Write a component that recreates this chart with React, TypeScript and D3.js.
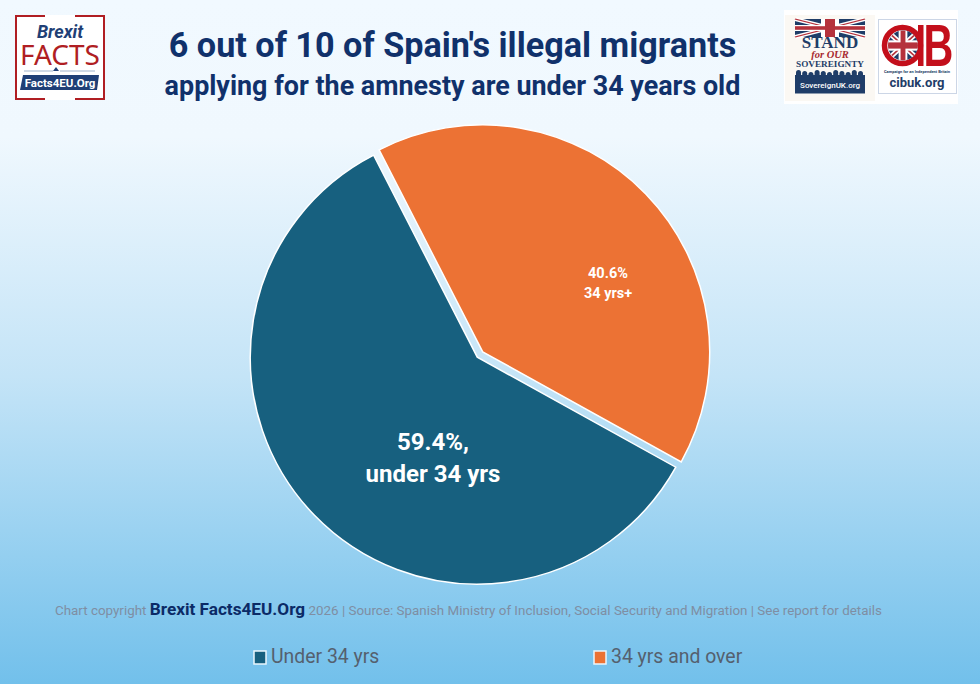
import React from "react";
import { arc, pie, scaleOrdinal } from "d3";

const categories = ["Under 34 yrs", "34 yrs and over"];
const shares = [59.4, 40.6];
const sliceColours = ["#17607f", "#ec7234"];
const sliceLabels = [
  ["59.4%,", "under 34 yrs"],
  ["40.6%", "34 yrs+"],
];
const titleLines = [
  "6 out of 10 of Spain's illegal migrants",
  "applying for the amnesty are under 34 years old",
];

const FONT = "Roboto, 'Noto Sans', sans-serif";
const SERIF = "'Liberation Serif', serif";
const NAVY = "#10316b";

const width = 980;
const height = 684;
const pieCentre = { x: 480, y: 354.5 };
const radius = 227;
const explode = 3.8;

const colour = scaleOrdinal<string, string>().domain(categories).range(sliceColours);

const deg = (d: number) => (d * Math.PI) / 180;

const UnionJack = ({ x, y, w, h }: { x: number; y: number; w: number; h: number }) => (
  <g transform={`translate(${x},${y}) scale(${w / 70},${h / 30})`}>
    <rect width="70" height="30" fill="#1f3d68" />
    <path d="M0,0L70,30M70,0L0,30" stroke="#fff" strokeWidth="6" />
    <path d="M0,0L70,30M70,0L0,30" stroke="#b5323c" strokeWidth="2" />
    <rect x="26" width="18" height="30" fill="#fff" />
    <rect y="10" width="70" height="10" fill="#fff" />
    <rect x="30" width="10" height="30" fill="#b5323c" />
    <rect y="12" width="70" height="6" fill="#b5323c" />
  </g>
);

const BrexitLogo = () => (
  <g fontFamily={FONT} textAnchor="middle">
    <rect x="15" y="15" width="90" height="85" fill="#fff" />
    <path d="M45,16H16V99H45M75,16H104V99H75" fill="none" stroke="#b01e23" strokeWidth="2" />
    <text x="60" y="38" fontSize="18" fontWeight="700" fontStyle="italic" fill="#1f3f76">Brexit</text>
    <text x="60" y="65" fontSize="28" fontFamily="'Noto Sans', sans-serif" fill="#b01e23">FACTS</text>
    <path d="M24,71H53M60,71H95" stroke="#9fb3cc" strokeWidth="1" />
    <path d="M53,71L56,67L59,71Z" fill="#1f3f76" />
    <path d="M23,75H99L97,90H20Z" fill="#1f3f76" />
    <text x="60" y="87" fontSize="11.5" fontWeight="700" fill="#fff">Facts4EU.Org</text>
  </g>
);

const crowd = [0, 1, 2, 3, 4, 5, 6, 7, 8, 9, 10];

const PartnerLogos = () => (
  <g textAnchor="middle">
    <defs>
      <clipPath id="cib-flag">
        <circle cx="903" cy="45.5" r="15" />
      </clipPath>
    </defs>
    <rect x="784" y="10" width="174" height="94" fill="#fff" />
    <rect x="785" y="15" width="90" height="86" fill="#fbf8f3" />
    <UnionJack x={795} y={19} w={70} h={18} />
    <text x="830" y="48" fontSize="17" fontWeight="700" fontFamily={SERIF} fill="#1f3d68">STAND</text>
    <text x="830" y="58" fontSize="10.5" fontWeight="700" fontStyle="italic" fontFamily={SERIF} fill="#a82a30">for OUR</text>
    <text x="830" y="66.5" fontSize="9.2" fontWeight="700" fontFamily={SERIF} fill="#1f3d68">SOVEREIGNTY</text>
    <rect x="795" y="75" width="70" height="18.5" fill="#1f3d68" />
    {crowd.map((c) => (
      <rect key={c} x={796 + c * 6.2} y={70 + (c % 3)} width="5" height="7" rx="2.5" fill="#1f3d68" />
    ))}
    <text x="830" y="87.5" fontSize="8" fontWeight="500" fontFamily={FONT} fill="#fff">SovereignUK.org</text>
    <rect x="878.5" y="19.5" width="78" height="74" fill="#fff" stroke="#ccd6e6" />
    <circle cx="902.5" cy="45.5" r="18" fill="#fff" stroke="#c30f1b" strokeWidth="5.5" />
    <g clipPath="url(#cib-flag)">
      <UnionJack x={886} y={30} w={34} h={31} />
    </g>
    <rect x="918" y="25" width="5.5" height="41" fill="#c30f1b" />
    <text
      transform="translate(938.5,66) scale(0.7,1)"
      fontSize="59"
      fontWeight="700"
      fontFamily="'Liberation Sans', sans-serif"
      fill="#c30f1b"
    >
      B
    </text>
    <text x="917" y="72.5" fontSize="4" fontWeight="700" fontFamily={FONT} fill="#1f3d68">Campaign for an Independent Britain</text>
    <text x="917" y="87" fontSize="13" fontWeight="700" fontFamily={FONT} fill="#1f3d68">cibuk.org</text>
  </g>
);

export default function App() {
  const slices = pie<number>()
    .sort(null)
    .startAngle(deg(119))
    .endAngle(deg(119 + 360))(shares);
  const sliceArc = arc<any>().innerRadius(0).outerRadius(radius);
  const legendX = [254, 594];
  const labelSpots = [
    { x: 433, y: 450, size: 24, gap: 32 },
    { x: 608, y: 278, size: 14.5, gap: 20 },
  ];

  return (
    <svg
      width={width}
      height={height}
      viewBox={`0 0 ${width} ${height}`}
      style={{ position: "absolute", left: 0, top: 0, display: "block" }}
    >
      <defs>
        <linearGradient id="bg" x1="0" y1="0" x2="0" y2="1">
          <stop offset="0" stopColor="#f1f9ff" />
          <stop offset="0.2" stopColor="#f0f8fe" />
          <stop offset="0.55" stopColor="#c4e4f7" />
          <stop offset="1" stopColor="#72c0eb" />
        </linearGradient>
      </defs>
      <rect width={width} height={height} fill="url(#bg)" />

      <BrexitLogo />
      <PartnerLogos />

      <g fontFamily={FONT} fontWeight="700" fill={NAVY} textAnchor="middle">
        <text x="452.5" y="56.5" fontSize="34.2">{titleLines[0]}</text>
        <text x="452.5" y="95" fontSize="26.9">{titleLines[1]}</text>
      </g>

      {slices.map((s, i) => {
        const mid = (s.startAngle + s.endAngle) / 2;
        const dx = Math.sin(mid) * explode;
        const dy = -Math.cos(mid) * explode;
        return (
          <path
            key={categories[i]}
            d={sliceArc(s) as string}
            transform={`translate(${pieCentre.x + dx},${pieCentre.y + dy})`}
            fill={colour(categories[i])}
            stroke="#fff"
            strokeWidth="1.5"
          />
        );
      })}

      {sliceLabels.map((lines, i) => (
        <text
          key={lines[1]}
          fontFamily={FONT}
          fontWeight="700"
          fontSize={labelSpots[i].size}
          fill="#fff"
          textAnchor="middle"
        >
          {lines.map((line, j) => (
            <tspan key={line} x={labelSpots[i].x} y={labelSpots[i].y + j * labelSpots[i].gap}>
              {line}
            </tspan>
          ))}
        </text>
      ))}

      <text x="55" y="615" fontFamily={FONT} fontSize="13.4" fill="#7f8ea3">
        Chart copyright{" "}
        <tspan fontSize="17.2" fontWeight="700" fill="#0b2a66">Brexit Facts4EU.Org</tspan>{" "}
        2026 | Source: Spanish Ministry of Inclusion, Social Security and Migration | See report for details
      </text>

      {categories.map((c, i) => (
        <g key={c}>
          <rect
            x={legendX[i]}
            y="651"
            width="12"
            height="13"
            fill={colour(c)}
            stroke="#eaf6fd"
            strokeWidth="1.5"
          />
          <text x={legendX[i] + 17} y="663" fontFamily={FONT} fontSize="19.4" fill="#55606e">
            {c}
          </text>
        </g>
      ))}
    </svg>
  );
}
